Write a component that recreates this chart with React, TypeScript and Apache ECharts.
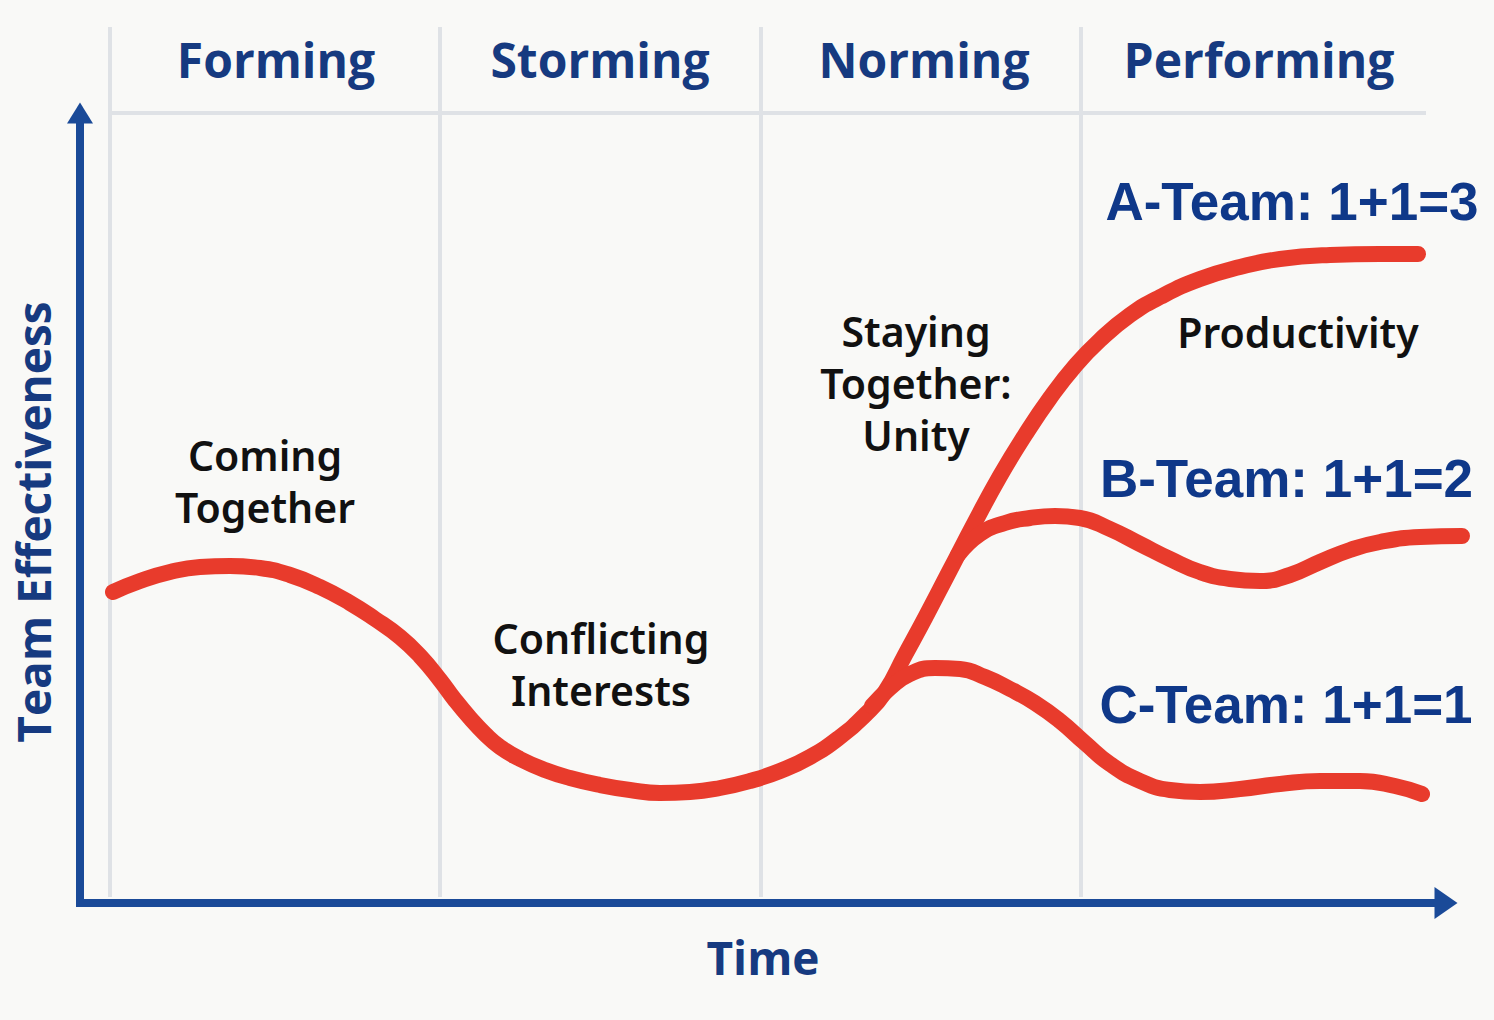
import React, { useEffect, useRef } from "react";
import * as echarts from "echarts";

// ---- axis extents (time / effectiveness units, 10 px per unit) ----
const xMax = 136.6; // visible time axis (ends at the arrow)
const xMaxPlot = 139.0; // drawing area for the curves (same scale, a bit wider)
const yMax = 79;

// ---- stage headers ----
const stageNames = ["Forming", "Storming", "Norming", "Performing"];
const stageLabelX = [19.6, 52.0, 84.4, 117.9];
const stageLabelY = [84.35, 84.35, 84.35, 84.35];

// ---- stage dividers ----
const dividerX = [3, 36, 68.1, 100.1];
const dividerBottom = 0.6;
const dividerTop = 87.6;
const headerRuleX = [3, 134.6];
const headerRuleY = 79;

// ---- curves ----
const mainA: [number, number][] = [
  [3.3, 31.1], [6.0, 32.2], [9.0, 33.1], [12.0, 33.6], [15.0, 33.7], [18.0, 33.5],
  [21.0, 32.8], [24.0, 31.6], [27.0, 30.0], [29.5, 28.4], [32.0, 26.6], [34.0, 24.7],
  [36.0, 22.3], [37.5, 20.3], [39.0, 18.5], [40.5, 16.9], [42.0, 15.6], [44.0, 14.4],
  [46.5, 13.3], [49.0, 12.5], [52.0, 11.8], [55.0, 11.3], [58.0, 11.0], [61.0, 11.1],
  [64.0, 11.5], [67.0, 12.2], [70.0, 13.2], [73.0, 14.6], [76.0, 16.6], [78.5, 18.8],
  [80.5, 21.1], [82.5, 24.8], [84.5, 28.5], [87.0, 33.3], [89.5, 38.1], [92.0, 42.7],
  [94.5, 46.8], [97.0, 50.5], [99.5, 53.7], [102.0, 56.3], [105.0, 58.8], [108.0, 60.6],
  [112.0, 62.4], [116.0, 63.6], [120.0, 64.4], [125.0, 64.8], [130.0, 64.9], [133.8, 64.9],
];
const teamB: [number, number][] = [
  [87.8, 34.8], [90.0, 36.9], [92.5, 38.0], [95.0, 38.5], [97.5, 38.7], [100.0, 38.5],
  [103.0, 37.4], [106.0, 35.9], [109.0, 34.4], [112.0, 33.1], [115.0, 32.4], [118.0, 32.2],
  [121.0, 32.8], [124.0, 34.1], [127.0, 35.3], [130.0, 36.1], [134.0, 36.6], [138.2, 36.7],
];
const teamC: [number, number][] = [
  [79.2, 19.7], [81.0, 21.5], [83.0, 22.9], [85.5, 23.5], [88.0, 23.4], [90.5, 22.6],
  [93.0, 21.4], [95.5, 20.0], [98.0, 18.2], [100.5, 16.0], [103.0, 13.9], [106.0, 12.2],
  [109.0, 11.3], [112.0, 11.1], [116.0, 11.4], [120.0, 11.9], [124.0, 12.2], [128.0, 12.2],
  [131.5, 11.7], [134.2, 10.9],
];

// ---- annotations ----
const noteTexts = ["Coming\nTogether", "Conflicting\nInterests", "Staying\nTogether:\nUnity", "Productivity"];
const noteX = [18.5, 52.1, 83.6, 121.8];
const noteY = [42.2, 23.9, 52.0, 57.1];

const teamTexts = ["A-Team: 1+1=3", "B-Team: 1+1=2", "C-Team: 1+1=1"];
const teamX = [121.2, 120.65, 120.6];
const teamY = [70.2, 42.5, 19.9];

const xName = "Time";
const yName = "Team Effectiveness";

const BLUE_TEXT = "#163a80";
const BLUE_TEAM = "#0f3889";
const BLUE_AXIS = "#1a4a98";
const RED = "#e83b2c";
const GRID = "#dfe2e6";
const BG = "#f9f9f7";

function labelSeries(name: string, xs: number[], ys: number[], texts: string[], style: any) {
  return {
    type: "scatter",
    name,
    xAxisIndex: 1,
    yAxisIndex: 1,
    data: texts.map((t, i) => ({ value: [xs[i], ys[i]], name: t })),
    symbolSize: 0,
    clip: false,
    silent: true,
    z: 10,
    itemStyle: { opacity: 1 },
    label: {
      show: true,
      position: "inside",
      align: "center",
      verticalAlign: "middle",
      formatter: "{b}",
      opacity: 1,
      ...style,
    },
  };
}

export default function App() {
  const ref = useRef<HTMLDivElement>(null);
  useEffect(() => {
    if (!ref.current) return;
    const chart = echarts.init(ref.current, null, { renderer: "svg" });
    const curveStyle = { color: RED, width: 16, cap: "round", join: "round" };
    const dividerSeries = dividerX.map((x, i) => ({
      type: "line",
      name: "divider" + i,
      xAxisIndex: 1,
      yAxisIndex: 1,
      data: [[x, dividerBottom], [x, dividerTop]],
      symbol: "none",
      clip: false,
      silent: true,
      z: 1,
      lineStyle: { color: GRID, width: 4 },
    }));
    const curve = (name: string, data: [number, number][]) => ({
      type: "line",
      name,
      xAxisIndex: 1,
      yAxisIndex: 1,
      data,
      smooth: 0.5,
      symbol: "none",
      clip: false,
      silent: true,
      z: 3,
      lineStyle: curveStyle,
    });
    chart.setOption({
      animation: false,
      backgroundColor: BG,
      grid: [
        { left: 80, right: 48, top: 113, bottom: 117, containLabel: false },
        { left: 80, right: 24, top: 113, bottom: 117, containLabel: false },
      ],
      xAxis: [
        {
          type: "value",
          gridIndex: 0,
          min: 0,
          max: xMax,
          name: xName,
          nameLocation: "middle",
          nameGap: 31,
          nameTextStyle: { color: BLUE_TEXT, fontFamily: "'Open Sans', sans-serif", fontWeight: "bold", fontSize: 46 },
          axisLine: {
            show: true,
            symbol: ["none", "triangle"],
            symbolSize: [32, 23],
            lineStyle: { color: BLUE_AXIS, width: 8, cap: "square" },
          },
          axisTick: { show: false },
          axisLabel: { show: false },
          splitLine: { show: false },
        },
        {
          type: "value",
          gridIndex: 1,
          min: 0,
          max: xMaxPlot,
          show: false,
          splitLine: { show: false },
        },
      ],
      yAxis: [
        {
          type: "value",
          gridIndex: 0,
          min: 0,
          max: yMax,
          name: yName,
          nameLocation: "middle",
          nameGap: 24,
          nameRotate: 90,
          nameTextStyle: {
            color: BLUE_TEXT,
            fontFamily: "'Open Sans', sans-serif",
            fontWeight: "bold",
            fontSize: 46,
            padding: [0, 28, 0, 0],
          },
          axisLine: {
            show: true,
            symbol: ["none", "triangle"],
            symbolSize: [26, 21],
            lineStyle: { color: BLUE_AXIS, width: 8, cap: "square" },
          },
          axisTick: { show: false },
          axisLabel: { show: false },
          splitLine: { show: false },
        },
        {
          type: "value",
          gridIndex: 1,
          min: 0,
          max: yMax,
          show: false,
          splitLine: { show: false },
        },
      ],
      series: [
        ...dividerSeries,
        {
          type: "line",
          name: "header rule",
          xAxisIndex: 1,
          yAxisIndex: 1,
          data: [[headerRuleX[0], headerRuleY], [headerRuleX[1], headerRuleY]],
          symbol: "none",
          clip: false,
          silent: true,
          z: 1,
          lineStyle: { color: GRID, width: 4 },
        },
        curve("A-Team", mainA),
        curve("B-Team", teamB),
        curve("C-Team", teamC),
        labelSeries("stages", stageLabelX, stageLabelY, stageNames, {
          color: BLUE_TEXT, fontFamily: "'Open Sans', sans-serif", fontWeight: "bold", fontSize: 48,
        }),
        labelSeries("notes", noteX, noteY, noteTexts, {
          color: "#111111", fontFamily: "'Noto Sans', sans-serif", fontWeight: 600, fontSize: 41, lineHeight: 52,
        }),
        labelSeries("teams", teamX, teamY, teamTexts, {
          color: BLUE_TEAM, fontFamily: "'Liberation Sans', Arial, sans-serif", fontWeight: "bold", fontSize: 53,
        }),
      ],
    });
    return () => chart.dispose();
  }, []);
  return (
    <div
      ref={ref}
      style={{ position: "fixed", left: 0, top: 0, width: 1494, height: 1020, background: BG }}
    />
  );
}
